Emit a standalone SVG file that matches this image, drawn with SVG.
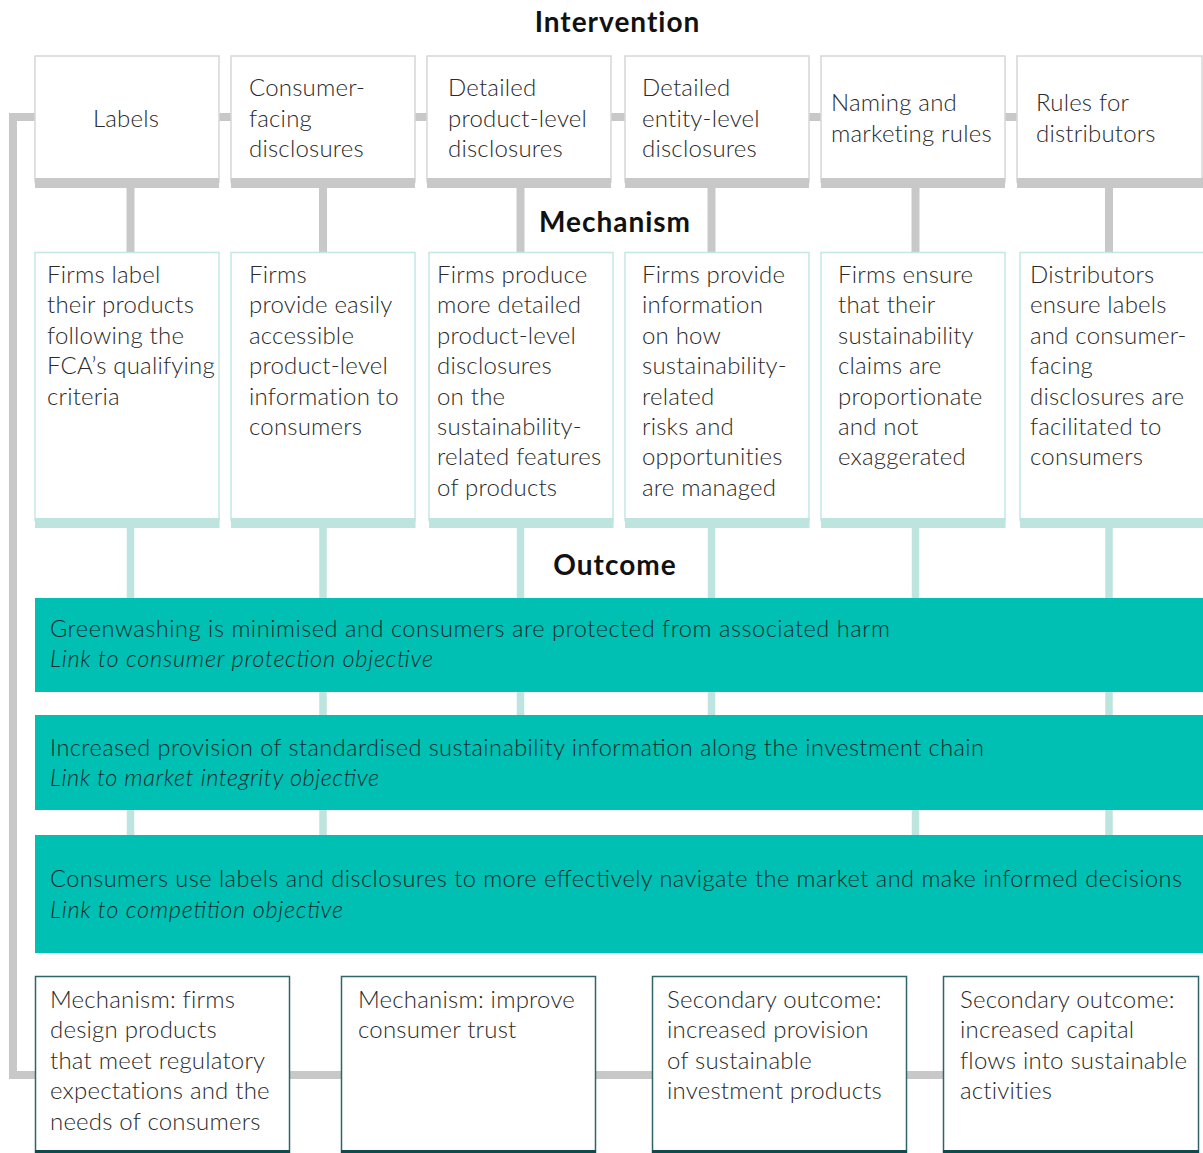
<svg xmlns="http://www.w3.org/2000/svg" width="1203" height="1153" viewBox="0 0 1203 1153">
<style>
.t{font-family:Lato,"Liberation Sans",sans-serif;font-size:24px;letter-spacing:0.2px;fill:#2a2a2a;font-weight:300}
.h{font-family:Lato,"Liberation Sans",sans-serif;font-size:28px;letter-spacing:1px;font-weight:700;fill:#111;text-anchor:middle}
.o{font-family:Lato,"Liberation Sans",sans-serif;font-size:23.5px;fill:#0f2c2d;font-weight:300}
.oi{font-style:italic}
.ib{fill:#fff;stroke:#d6d6d6;stroke-width:1.5}
.ibar{fill:#c8c8c8}
.mb{fill:#fff;stroke:#c3e7e3;stroke-width:1.5}
.mbar{fill:#bde4df}
.ob{fill:#00bfb3}
.bb{fill:#fff;stroke:#2f6469;stroke-width:1.5}
.bbar{fill:#0e4b50}
.g{stroke:#c8c8c8;stroke-width:8;fill:none}
.lt{stroke:#bde4df;stroke-width:7.5;fill:none}
</style>
<rect width="1203" height="1153" fill="#fff"/>
<g id="connectors">
<path class="g" d="M35 117 H13 V1075 H943"/>
<path class="g" d="M219 117 H1017"/>
<path class="g" d="M130.5 188 V252 M323 188 V252 M520.5 188 V252 M711.5 188 V252 M915.5 188 V252 M1109 188 V252"/>
<path class="lt" d="M130.5 528 V598 M323 528 V598 M520.5 528 V598 M711.5 528 V598 M915.5 528 V598 M1109 528 V598"/>
<path class="lt" d="M323 692 V715 M520.5 692 V715 M711.5 692 V715 M1109 692 V715"/>
<path class="lt" d="M130.5 810 V835 M323 810 V835 M915.5 810 V835 M1109 810 V835"/>
</g>
<text class="h" x="617.5" y="32">Intervention</text>
<text class="h" x="615" y="232">Mechanism</text>
<text class="h" x="615" y="575">Outcome</text>
<g id="int1"><rect class="ib" x="35" y="56" width="184" height="126"/><rect class="ibar" x="35" y="178" width="184" height="10"/><text class="t" x="126" y="127" text-anchor="middle">Labels</text></g>
<g id="int2"><rect class="ib" x="231" y="56" width="184" height="126"/><rect class="ibar" x="231" y="178" width="184" height="10"/><text class="t" x="249" y="96">Consumer-</text><text class="t" x="249" y="126.5">facing</text><text class="t" x="249" y="157">disclosures</text></g>
<g id="int3"><rect class="ib" x="427" y="56" width="184" height="126"/><rect class="ibar" x="427" y="178" width="184" height="10"/><text class="t" x="448" y="96">Detailed</text><text class="t" x="448" y="126.5">product-level</text><text class="t" x="448" y="157">disclosures</text></g>
<g id="int4"><rect class="ib" x="625" y="56" width="184" height="126"/><rect class="ibar" x="625" y="178" width="184" height="10"/><text class="t" x="642" y="96">Detailed</text><text class="t" x="642" y="126.5">entity-level</text><text class="t" x="642" y="157">disclosures</text></g>
<g id="int5"><rect class="ib" x="821" y="56" width="184" height="126"/><rect class="ibar" x="821" y="178" width="184" height="10"/><text class="t" x="831" y="111">Naming and</text><text class="t" x="831" y="141.5">marketing rules</text></g>
<g id="int6"><rect class="ib" x="1017" y="56" width="185" height="126"/><rect class="ibar" x="1017" y="178" width="186" height="10"/><text class="t" x="1036" y="111">Rules for</text><text class="t" x="1036" y="141.5">distributors</text></g>
<g id="mech1"><rect class="mb" x="35" y="252.5" width="184" height="268"/><rect class="mbar" x="35" y="518" width="184.5" height="10"/><text class="t" x="47" y="283">Firms label</text><text class="t" x="47" y="313.4">their products</text><text class="t" x="47" y="343.8">following the</text><text class="t" x="47" y="374.2">FCA’s qualifying</text><text class="t" x="47" y="404.6">criteria</text></g>
<g id="mech2"><rect class="mb" x="231" y="252.5" width="184" height="268"/><rect class="mbar" x="231" y="518" width="184.5" height="10"/><text class="t" x="249" y="283">Firms</text><text class="t" x="249" y="313.4">provide easily</text><text class="t" x="249" y="343.8">accessible</text><text class="t" x="249" y="374.2">product-level</text><text class="t" x="249" y="404.6">information to</text><text class="t" x="249" y="435">consumers</text></g>
<g id="mech3"><rect class="mb" x="429" y="252.5" width="184" height="268"/><rect class="mbar" x="429" y="518" width="184.5" height="10"/><text class="t" x="437" y="283">Firms produce</text><text class="t" x="437" y="313.4">more detailed</text><text class="t" x="437" y="343.8">product-level</text><text class="t" x="437" y="374.2">disclosures</text><text class="t" x="437" y="404.6">on the</text><text class="t" x="437" y="435">sustainability-</text><text class="t" x="437" y="465.4">related features</text><text class="t" x="437" y="495.8">of products</text></g>
<g id="mech4"><rect class="mb" x="625" y="252.5" width="184" height="268"/><rect class="mbar" x="625" y="518" width="184.5" height="10"/><text class="t" x="642" y="283">Firms provide</text><text class="t" x="642" y="313.4">information</text><text class="t" x="642" y="343.8">on how</text><text class="t" x="642" y="374.2">sustainability-</text><text class="t" x="642" y="404.6">related</text><text class="t" x="642" y="435">risks and</text><text class="t" x="642" y="465.4">opportunities</text><text class="t" x="642" y="495.8">are managed</text></g>
<g id="mech5"><rect class="mb" x="821" y="252.5" width="184" height="268"/><rect class="mbar" x="821" y="518" width="184.5" height="10"/><text class="t" x="838" y="283">Firms ensure</text><text class="t" x="838" y="313.4">that their</text><text class="t" x="838" y="343.8">sustainability</text><text class="t" x="838" y="374.2">claims are</text><text class="t" x="838" y="404.6">proportionate</text><text class="t" x="838" y="435">and not</text><text class="t" x="838" y="465.4">exaggerated</text></g>
<g id="mech6"><rect class="mb" x="1020" y="252.5" width="190" height="268"/><rect class="mbar" x="1020" y="518" width="183" height="10"/><text class="t" x="1030" y="283">Distributors</text><text class="t" x="1030" y="313.4">ensure labels</text><text class="t" x="1030" y="343.8">and consumer-</text><text class="t" x="1030" y="374.2">facing</text><text class="t" x="1030" y="404.6">disclosures are</text><text class="t" x="1030" y="435">facilitated to</text><text class="t" x="1030" y="465.4">consumers</text></g>
<g id="out1"><rect class="ob" x="35" y="598" width="1168" height="94"/><text class="o" x="50" y="637" textLength="840" lengthAdjust="spacing">Greenwashing is minimised and consumers are protected from associated harm</text><text class="o oi" x="50" y="667" textLength="383" lengthAdjust="spacing">Link to consumer protection objective</text></g>
<g id="out2"><rect class="ob" x="35" y="715" width="1168" height="95"/><text class="o" x="50" y="756" textLength="934" lengthAdjust="spacing">Increased provision of standardised sustainability information along the investment chain</text><text class="o oi" x="50" y="786" textLength="329" lengthAdjust="spacing">Link to market integrity objective</text></g>
<g id="out3"><rect class="ob" x="35" y="835" width="1168" height="118"/><text class="o" x="50" y="887" textLength="1132" lengthAdjust="spacing">Consumers use labels and disclosures to more effectively navigate the market and make informed decisions</text><text class="o oi" x="50" y="918" textLength="293" lengthAdjust="spacing">Link to competition objective</text></g>
<g id="sec1"><rect class="bb" x="35.5" y="976.5" width="254" height="176"/><rect class="bbar" x="35" y="1150" width="255" height="3"/><text class="t" x="50" y="1008">Mechanism: firms</text><text class="t" x="50" y="1038.4">design products</text><text class="t" x="50" y="1068.8">that meet regulatory</text><text class="t" x="50" y="1099.2">expectations and the</text><text class="t" x="50" y="1129.6">needs of consumers</text></g>
<g id="sec2"><rect class="bb" x="341.5" y="976.5" width="254" height="176"/><rect class="bbar" x="341" y="1150" width="255" height="3"/><text class="t" x="358" y="1008">Mechanism: improve</text><text class="t" x="358" y="1038.4">consumer trust</text></g>
<g id="sec3"><rect class="bb" x="652.5" y="976.5" width="254" height="176"/><rect class="bbar" x="652" y="1150" width="255" height="3"/><text class="t" x="667" y="1008">Secondary outcome:</text><text class="t" x="667" y="1038.4">increased provision</text><text class="t" x="667" y="1068.8">of sustainable</text><text class="t" x="667" y="1099.2">investment products</text></g>
<g id="sec4"><rect class="bb" x="943.5" y="976.5" width="255" height="176"/><rect class="bbar" x="943" y="1150" width="256" height="3"/><text class="t" x="960" y="1008">Secondary outcome:</text><text class="t" x="960" y="1038.4">increased capital</text><text class="t" x="960" y="1068.8">flows into sustainable</text><text class="t" x="960" y="1099.2">activities</text></g>
</svg>
